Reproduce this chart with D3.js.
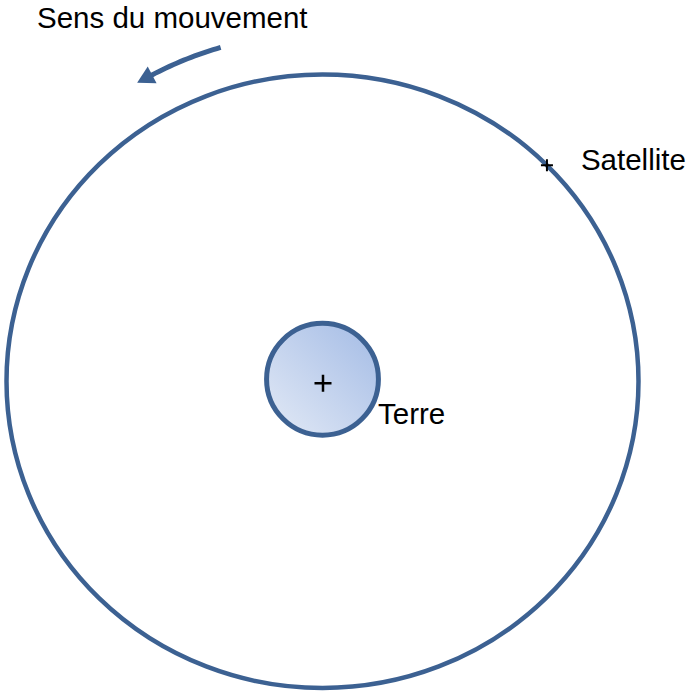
<!DOCTYPE html>
<html>
<head>
<meta charset="utf-8">
<script src="https://cdn.jsdelivr.net/npm/d3@7"></script>
<style>
  body { margin: 0; background: #fff; }
  text { font-family: "Liberation Sans", Arial, sans-serif; font-size: 29.5px; fill: #000; }
</style>
</head>
<body>
<div id="chart"></div>
<script>
// Size of the page
const width = 686;
const height = 693;

// Diagram values (orbit radius = 1)
const orbitRadius = [1];
const earthRadius = [0.177];
const satelliteAngle = [45];          // degrees, counter-clockwise from +x
const arrowAngles = [106.5, 119];     // shaft of the "sens du mouvement" arrow
const arrowRadius = [1.135];
const labels = ["Sens du mouvement", "Satellite", "Terre"];

const blue = "#3c6192";

const svg = d3.select("#chart").append("svg")
    .attr("width", width)
    .attr("height", height);

// Scales from model units to pixels
const x = d3.scaleLinear().domain([-1, 1]).range([6.5, 638.5]);
const y = d3.scaleLinear().domain([-1, 1]).range([688, 74.5]);
const cx = x(0), cy = y(0);
const rx = v => x(v) - x(0);
const ry = v => y(0) - y(v);
const rad = a => a * Math.PI / 180;

// Gradient for the Earth
const grad = svg.append("defs").append("linearGradient")
    .attr("id", "earthGrad")
    .attr("x1", "0%").attr("y1", "100%")
    .attr("x2", "100%").attr("y2", "0%");
grad.append("stop").attr("offset", "0%").attr("stop-color", "#e3eaf6");
grad.append("stop").attr("offset", "100%").attr("stop-color", "#a3bbe5");

// Orbit
svg.selectAll("ellipse.orbit")
    .data(orbitRadius)
    .enter().append("ellipse")
    .attr("class", "orbit")
    .attr("cx", cx).attr("cy", cy)
    .attr("rx", d => rx(d)).attr("ry", d => ry(d))
    .style("fill", "none")
    .style("stroke", blue)
    .style("stroke-width", 4.5);

// Earth
svg.selectAll("circle.earth")
    .data(earthRadius)
    .enter().append("circle")
    .attr("class", "earth")
    .attr("cx", cx).attr("cy", cy - 2)
    .attr("r", d => rx(d))
    .style("fill", "url(#earthGrad)")
    .style("stroke", blue)
    .style("stroke-width", 5);

// Plus markers
const plus = (px, py, s, w) => {
    svg.append("path")
        .attr("d", `M${px - s},${py}H${px + s}M${px},${py - s}V${py + s}`)
        .style("stroke", "#000")
        .style("stroke-width", w);
};
plus(cx + 0.5, cy + 2, 8.5, 2.5);

const satX = x(Math.cos(rad(satelliteAngle[0])));
const satY = y(Math.sin(rad(satelliteAngle[0])));
plus(satX + 1, satY + 1, 6, 2);

// Labels
svg.append("text").attr("x", 37).attr("y", 28).text(labels[0]);
svg.append("text").attr("x", satX + 35).attr("y", satY + 6).text(labels[1]);
svg.append("text").attr("x", 378).attr("y", 424).text(labels[2]);

// Movement arrow, along a larger concentric orbit
const arcPt = a => [x(arrowRadius[0] * Math.cos(rad(a))), y(arrowRadius[0] * Math.sin(rad(a)))];
const steps = d3.range(0, 21).map(i => arrowAngles[0] + (arrowAngles[1] - arrowAngles[0]) * i / 20);
svg.append("path")
    .attr("d", d3.line()(steps.map(arcPt)))
    .style("fill", "none")
    .style("stroke", blue)
    .style("stroke-width", 5);

// Arrow head
const end = arcPt(arrowAngles[1]);
const prev = arcPt(arrowAngles[1] - 1);
const ang = Math.atan2(end[1] - prev[1], end[0] - prev[0]);
const len = 17, half = 9.5;
const tip = [end[0] + Math.cos(ang) * (len - 4), end[1] + Math.sin(ang) * (len - 4)];
const base = [tip[0] - Math.cos(ang) * len, tip[1] - Math.sin(ang) * len];
const nx = -Math.sin(ang), ny = Math.cos(ang);
svg.append("path")
    .attr("d", d3.line()([tip, [base[0] + nx * half, base[1] + ny * half], [base[0] - nx * half, base[1] - ny * half]]) + "Z")
    .style("fill", blue);
</script>
</body>
</html>
